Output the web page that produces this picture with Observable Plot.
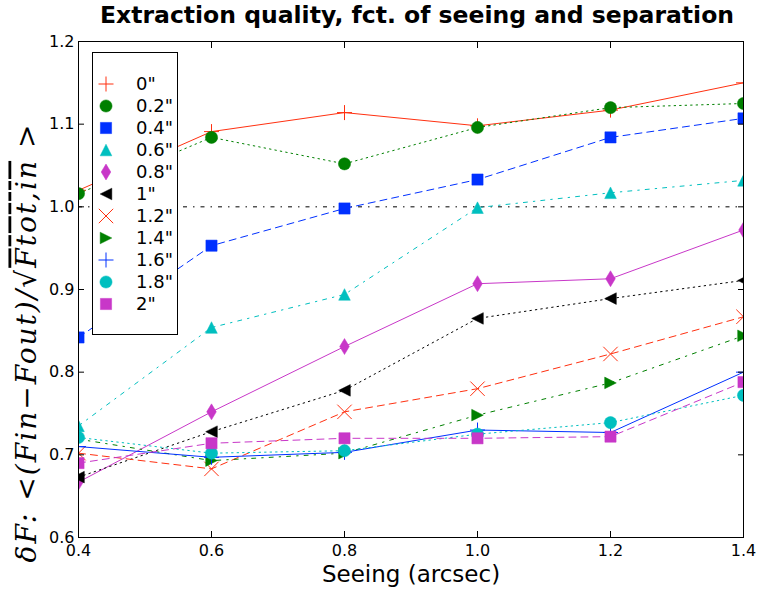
<!DOCTYPE html>
<html><head><meta charset="utf-8">
<script src="https://cdn.jsdelivr.net/npm/d3@7"></script>
<script src="https://cdn.jsdelivr.net/npm/@observablehq/plot@0.6"></script>
<style>
body{margin:0;background:#fff;}
#wrap{position:relative;width:758px;height:592px;font-family:"DejaVu Sans";overflow:hidden;background:#fff;}
#title{position:absolute;left:76px;top:0;width:682px;height:30px;line-height:30px;text-align:center;font-weight:bold;font-size:23.5px;white-space:nowrap;}
#chart{position:absolute;left:0;top:30px;}
#legend{position:absolute;left:92px;top:52px;width:84px;height:281px;border:1px solid #000;background:#fff;}
.lrow{position:absolute;left:0;height:22px;width:84px;}
.lrow svg{position:absolute;left:0;top:0;}
.lrow span{position:absolute;left:43px;top:0;line-height:22px;font-size:18px;white-space:nowrap;}
</style></head><body>
<div id="wrap"><div id="title">Extraction quality, fct. of seeing and separation</div><div id="chart"></div><div id="legend"></div></div>
<script>
// ---- data ----
const seeing = [0.4, 0.6, 0.8, 1.0, 1.2, 1.4];
const separations = ['0"', '0.2"', '0.4"', '0.6"', '0.8"', '1"', '1.2"', '1.4"', '1.6"', '1.8"', '2"'];
const sep0  = [1.020, 1.091, 1.114, 1.098, 1.117, 1.150];
const sep02 = [1.016, 1.084, 1.052, 1.096, 1.120, 1.125];
const sep04 = [0.842, 0.953, 0.998, 1.033, 1.084, 1.107];
const sep06 = [0.735, 0.854, 0.894, 0.999, 1.017, 1.032];
const sep08 = [0.667, 0.752, 0.831, 0.907, 0.913, 0.972];
const sep1  = [0.673, 0.728, 0.778, 0.865, 0.889, 0.911];
const sep12 = [0.702, 0.683, 0.752, 0.780, 0.822, 0.867];
const sep14 = [0.719, 0.693, 0.702, 0.748, 0.787, 0.844];
const sep16 = [0.710, 0.697, 0.703, 0.730, 0.727, 0.800];
const sep18 = [0.721, 0.702, 0.705, 0.725, 0.739, 0.772];
const sep2  = [0.690, 0.714, 0.720, 0.720, 0.722, 0.788];
const seriesValues = [sep0, sep02, sep04, sep06, sep08, sep1, sep12, sep14, sep16, sep18, sep2];
const referenceLevel = [1.0];
const xTicks = [0.4, 0.6, 0.8, 1.0, 1.2, 1.4];
const yTicks = [0.6, 0.7, 0.8, 0.9, 1.0, 1.1, 1.2];
const titleText = "Extraction quality, fct. of seeing and separation";
const xLabel = "Seeing (arcsec)";
const yLabel = "\u03b4F: <(Fin\u2212Fout)/\u221aFtot,in >";

// ---- styles ----
const RED = "#ff3010", GREEN = "#008000", BLUE = "#0030ff", CYAN = "#00bfbf", MAG = "#c837c8", BLACK = "#000000";
const DOT = "1.5,4", DASH = "7,5", DASHDOT = "4,6,1.5,6";
function sym(f){ return {draw(ctx, size){ f(ctx, Math.sqrt(size / Math.PI)); }}; }
const plusS = sym((c, r) => { c.moveTo(-r, 0); c.lineTo(r, 0); c.moveTo(0, -r); c.lineTo(0, r); });
const timesS = sym((c, r) => { c.moveTo(-r, -r); c.lineTo(r, r); c.moveTo(-r, r); c.lineTo(r, -r); });
const squareS = sym((c, r) => { c.rect(-r, -r, 2 * r, 2 * r); });
const triUpS = sym((c, r) => { c.moveTo(0, -r); c.lineTo(r, r); c.lineTo(-r, r); c.closePath(); });
const triLeftS = sym((c, r) => { c.moveTo(-r, 0); c.lineTo(r, -r); c.lineTo(r, r); c.closePath(); });
const triRightS = sym((c, r) => { c.moveTo(r, 0); c.lineTo(-r, -r); c.lineTo(-r, r); c.closePath(); });
const diamondS = sym((c, r) => { c.moveTo(0, -r); c.lineTo(0.6 * r, 0); c.lineTo(0, r); c.lineTo(-0.6 * r, 0); c.closePath(); });
const circleS = d3.symbolCircle;
const styles = [
  {color: RED,   dash: null,    symbol: plusS,     r: 7.5, filled: false},
  {color: GREEN, dash: DOT,     symbol: circleS,   r: 6.1, filled: true},
  {color: BLUE,  dash: DASH,    symbol: squareS,   r: 5.6, filled: true},
  {color: CYAN,  dash: DASHDOT, symbol: triUpS,    r: 5.8, filled: true},
  {color: MAG,   dash: null,    symbol: diamondS,  r: 8,   filled: true},
  {color: BLACK, dash: DOT,     symbol: triLeftS,  r: 5.8, filled: true},
  {color: RED,   dash: DASH,    symbol: timesS,    r: 7.2, filled: false},
  {color: GREEN, dash: DASHDOT, symbol: triRightS, r: 5.8, filled: true},
  {color: BLUE,  dash: null,    symbol: plusS,     r: 7.5, filled: false},
  {color: CYAN,  dash: DOT,     symbol: circleS,   r: 6.1, filled: true},
  {color: MAG,   dash: DASH,    symbol: squareS,   r: 5.6, filled: true}
];

const marks = [Plot.ruleY(referenceLevel, {stroke: BLACK, strokeWidth: 1, strokeDasharray: DASHDOT})];
separations.forEach((name, i) => {
  const rows = seeing.map((s, j) => ({sep: name, seeing: s, value: seriesValues[i][j]}));
  const st = styles[i];
  marks.push(Plot.line(rows, {x: "seeing", y: "value", stroke: st.color, strokeWidth: 1, strokeDasharray: st.dash, clip: true}));
  marks.push(Plot.dot(rows, {x: "seeing", y: "value", symbol: st.symbol, r: st.r,
    fill: st.filled ? st.color : "none", stroke: st.color, strokeWidth: st.filled ? 0.5 : 1, clip: true}));
});
marks.push(
  Plot.frame({stroke: BLACK, strokeWidth: 1}),
  Plot.axisX({anchor: "bottom", ticks: xTicks, tickFormat: d3.format(".1f"), tickSize: -6, tickPadding: 13, fontSize: 16, label: null}),
  Plot.axisX({anchor: "top", ticks: xTicks, tickFormat: () => "", tickSize: -6, label: null}),
  Plot.axisY({anchor: "left", ticks: yTicks, tickFormat: d3.format(".1f"), tickSize: -6, tickPadding: 10, fontSize: 16, label: null}),
  Plot.axisY({anchor: "right", ticks: yTicks, tickFormat: () => "", tickSize: -6, label: null}),
  Plot.text([xLabel], {text: d => d, frameAnchor: "bottom", dy: 37, fontSize: 23, lineAnchor: "middle"}),
  Plot.text([yLabel], {text: d => d, frameAnchor: "left", textAnchor: "middle", rotate: -90, dx: -51, dy: 54, fontSize: 28, lineAnchor: "middle", fontFamily: "DejaVu Serif", fontStyle: "italic"})
);

const chart = Plot.plot({
  width: 758, height: 562,
  marginLeft: 78, marginRight: 15, marginTop: 11, marginBottom: 55,
  x: {domain: [0.4, 1.4]},
  y: {domain: [0.6, 1.2]},
  style: {fontFamily: "DejaVu Sans", color: "black", background: "white", overflow: "visible"},
  marks
});
document.getElementById("chart").appendChild(chart);

// square-root overline in y label, stretched to the reference length
d3.select(chart).selectAll("text").filter(function(){ return this.textContent === yLabel; }).each(function(){
  const t = d3.select(this);
  t.text(null).attr("textLength", 438).attr("lengthAdjust", "spacing");
  t.append("tspan").text("\u03b4F: <(Fin\u2212Fout)/\u221a");
  t.append("tspan").style("text-decoration", "overline").text("Ftot,in");
  t.append("tspan").text(" >");
});

// legend
const legend = d3.select("#legend");
separations.forEach((name, i) => {
  const st = styles[i];
  const row = legend.append("div").attr("class", "lrow").style("top", (20 + 22 * i) + "px");
  const svg = row.append("svg").attr("width", 28).attr("height", 22);
  svg.append("path")
    .attr("transform", "translate(13,11)")
    .attr("d", d3.symbol(st.symbol, Math.PI * st.r * st.r)())
    .attr("fill", st.filled ? st.color : "none")
    .attr("stroke", st.color)
    .attr("stroke-width", st.filled ? 0.5 : 1);
  row.append("span").text(name);
});
</script>
</body></html>
